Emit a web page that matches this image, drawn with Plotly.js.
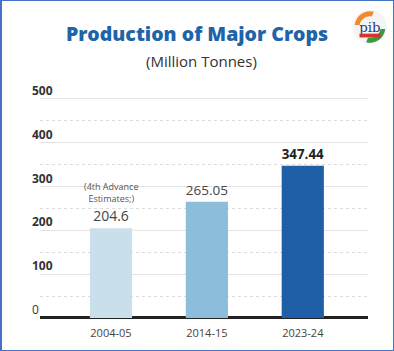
<!DOCTYPE html>
<html>
<head>
<meta charset="utf-8">
<script src="https://cdn.plot.ly/plotly-3.0.1.min.js"></script>
<style>
html,body{margin:0;padding:0;background:#fff;}
#wrap{width:394px;height:351px;box-sizing:border-box;border:1px solid #4472c4;border-left:2px solid #4472c4;position:relative;overflow:hidden;}
#chart{position:absolute;left:-2px;top:-1px;width:394px;height:351px;}
</style>
</head>
<body>
<div id="wrap"><div id="chart"></div></div>
<script>
const categories = ['2004-05', '2014-15', '2023-24'];
const production = [204.6, 265.05, 347.44];
const barColors = ['#c9dfec', '#8cbedb', '#1e5fa7'];
const yTicks = [0, 100, 200, 300, 400, 500];
const noteText = '(4th Advance<br>Estimates;)';

const logoSvg = `<svg xmlns="http://www.w3.org/2000/svg" width="40" height="40" viewBox="0 0 40 40">
<circle cx="20" cy="20" r="18" fill="#f4f4f4"/>
<path d="M4 18 A16 16 0 0 1 24 4 L22 9 A11 11 0 0 0 9 18 Z" fill="#f08a2c"/>
<path d="M36 22 A16 16 0 0 1 16 36 L18 31 A11 11 0 0 0 31 22 Z" fill="#3a9a3e"/>
<text x="20" y="25" font-family="DejaVu Serif" font-size="14" fill="#1f3c7a" text-anchor="middle">pib</text>
<rect x="9" y="27" width="22" height="4" fill="#d9342b"/>
</svg>`;
const logoSrc = 'data:image/svg+xml;base64,' + btoa(logoSvg);

const trace = {
  type: 'bar',
  x: categories,
  y: production,
  marker: {color: barColors, line: {width: 0}},
  width: 0.44,
  text: production.map((v, i) => i === production.length - 1 ? '<b>' + v + '</b>' : String(v)),
  textposition: 'outside',
  textfont: {family: 'Open Sans', size: [14, 14, 17], color: ['#444', '#444', '#222']},
  cliponaxis: false,
  hoverinfo: 'skip'
};

// plot area spans 79..325 px vertically; 0 sits at ~318px and 500 at ~99px
const plotTop = 79, plotBottom = 325, plotLeft = 40, plotRight = 368;
const py = p => (plotBottom - p) / (plotBottom - plotTop);
const px = p => (p - plotLeft) / (plotRight - plotLeft);

const layout = {
  width: 394,
  height: 351,
  margin: {l: plotLeft, r: 394 - plotRight, t: plotTop, b: 351 - plotBottom},
  paper_bgcolor: '#ffffff',
  plot_bgcolor: '#ffffff',
  showlegend: false,
  title: {
    text: 'Production of Major Crops',
    font: {family: 'Open Sans', size: 19.5, color: '#1f64a8', weight: 800},
    x: 0.5, xref: 'container', xanchor: 'center',
    y: 1 - 34 / 351, yref: 'container', yanchor: 'middle'
  },
  xaxis: {
    type: 'category',
    range: [-0.74, 2.68],
    showgrid: false,
    showline: false,
    ticks: '',
    tickfont: {family: 'Open Sans', size: 11, color: '#444'},
    fixedrange: true
  },
  yaxis: {
    range: [-16, 545],
    tickvals: yTicks,
    ticktext: yTicks.map(v => v === 0 ? String(v) : '<b>' + v + '</b>'),
    showgrid: true,
    gridcolor: '#e4e4e4',
    gridwidth: 1,
    minor: {tickvals: [50, 150, 250, 350, 450], showgrid: true, gridcolor: '#dcdcdc', griddash: 'dot', gridwidth: 1},
    zeroline: true,
    zerolinecolor: '#222222',
    zerolinewidth: 3,
    showline: false,
    ticks: '',
    ticklabelposition: 'inside',
    ticklabelstandoff: -11,
    ticklabelshift: -8,
    tickfont: {family: 'Open Sans', size: 12, color: '#333'},
    fixedrange: true
  },
  annotations: [
    {
      text: '(Million Tonnes)',
      xref: 'paper', yref: 'paper',
      x: px(201), y: py(61),
      xanchor: 'center', yanchor: 'middle',
      showarrow: false,
      font: {family: 'Open Sans', size: 15, color: '#333'}
    },
    {
      text: noteText,
      xref: 'x', yref: 'y',
      x: categories[0], y: production[0],
      xanchor: 'center', yanchor: 'bottom',
      yshift: 21,
      showarrow: false,
      font: {family: 'Open Sans', size: 9, color: '#555'}
    }
  ],
  images: [{
    source: logoSrc,
    xref: 'paper', yref: 'paper',
    x: px(351), y: py(8),
    sizex: 38 / (plotRight - plotLeft), sizey: 38 / (plotBottom - plotTop),
    xanchor: 'left', yanchor: 'top',
    layer: 'above'
  }]
};

Plotly.newPlot('chart', [trace], layout, {displayModeBar: false, staticPlot: true});
</script>
</body>
</html>
